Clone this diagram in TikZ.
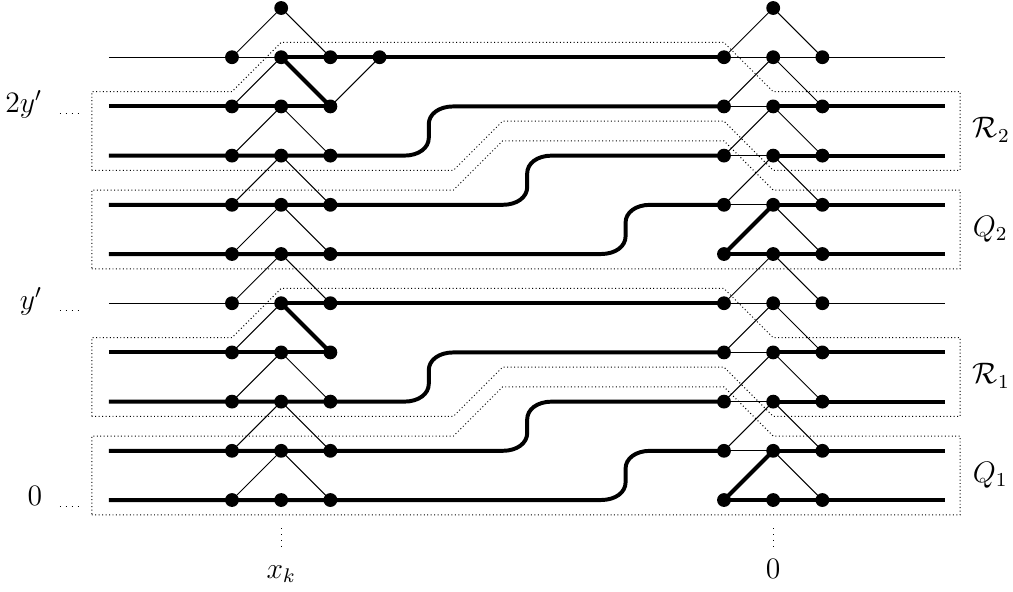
\documentclass[tikz,border=0pt]{standalone}
\usetikzlibrary{calc}
\newcommand{\sbend}[2]{(#1,#2) .. controls ({#1+0.3},#2) and ({#1+0.5},{#2+0.16}) .. ({#1+0.5},{#2+0.36}) -- ({#1+0.5},{#2+0.64}) .. controls ({#1+0.5},{#2+0.84}) and ({#1+0.7},{#2+1}) .. ({#1+1},{#2+1})}
\begin{document}
\begin{tikzpicture}[x=0.7cm,y=0.7cm,
  thinline/.style={line width=0.4pt},
  thickline/.style={line width=1.6pt},
  dot/.style={circle,fill=black,inner sep=0pt,minimum size=5.6pt},
  box/.style={densely dotted,line width=0.4pt},
  guide/.style={dotted,line width=0.4pt},
  lab/.style={inner sep=0pt,font=\fontsize{11.5pt}{14pt}\selectfont}]
\useasboundingbox (-4.715,-1.85) rectangle (15.874,10.163);

% coordinates
\foreach \y in {0,...,9} {
  \foreach \c in {0,1,2} { \coordinate (L\c-\y) at (\c,\y); }
  \foreach \c in {10,11,12} { \coordinate (R\c-\y) at (\c,\y); }
  \coordinate (S-\y) at (-2.5,\y);
  \coordinate (E-\y) at (14.5,\y);
}
\coordinate (L3-9) at (3,9);
\coordinate (LA) at (1,10);
\coordinate (RA) at (11,10);

% dotted boxes
\foreach \s in {0,5} {
  \draw[box] (-2.85,{\s-0.3}) -- (14.8,{\s-0.3}) -- (14.8,{\s+1.3}) -- (11,{\s+1.3}) -- (10,{\s+2.3}) -- (5.5,{\s+2.3}) -- (4.5,{\s+1.3}) -- (-2.85,{\s+1.3}) -- cycle;
  \draw[box] (-2.85,{\s+1.7}) -- (4.5,{\s+1.7}) -- (5.5,{\s+2.7}) -- (10,{\s+2.7}) -- (11,{\s+1.7}) -- (14.8,{\s+1.7}) -- (14.8,{\s+3.3}) -- (11,{\s+3.3}) -- (10,{\s+4.3}) -- (1,{\s+4.3}) -- (0,{\s+3.3}) -- (-2.85,{\s+3.3}) -- cycle;
}

% thin lattice
\draw[thinline] (LA) -- (L0-9) (LA) -- (L2-9);
\draw[thinline] (RA) -- (R10-9) (RA) -- (R12-9);
\draw[thinline] (L3-9) -- (L2-8);
\foreach \y/\z in {1/0,2/1,3/2,4/3,5/4,6/5,7/6,8/7,9/8} {
  \draw[thinline] (L1-\y) -- (L0-\z) (L1-\y) -- (L2-\z);
  \draw[thinline] (R11-\y) -- (R10-\z) (R11-\y) -- (R12-\z);
}

% row lines
\foreach \ya/\yb/\yc/\yd/\ye in {4/3/2/1/0, 9/8/7/6/5} {
  \draw[thinline] (S-\ya) -- (L1-\ya);
  \draw[thickline] (L1-\ya) -- (R10-\ya);
  \draw[thinline] (R10-\ya) -- (E-\ya);
  \draw[thickline] (L1-\ya) -- (L2-\yb);
  \draw[thickline] (S-\yb) -- (L2-\yb);
  \draw[thickline] (S-\yc) -- \sbend{3.5}{\yc} -- (R10-\yb);
  \draw[thickline] (S-\yd) -- \sbend{5.5}{\yd} -- (R10-\yc);
  \draw[thickline] (S-\ye) -- \sbend{7.5}{\ye} -- (R10-\yd);
  \foreach \r in {\yb,\yc,\yd} {
    \draw[thinline] (R10-\r) -- (R11-\r);
    \draw[thickline] (R11-\r) -- (E-\r);
  }
  \draw[thickline] (R10-\ye) -- (E-\ye);
  \draw[thickline] (R10-\ye) -- (R11-\yd);
}

% dots
\foreach \y in {0,...,9} {
  \foreach \c in {0,1,2} { \node[dot] (dL\c-\y) at (L\c-\y) {}; }
  \foreach \c in {10,11,12} { \node[dot] (dR\c-\y) at (R\c-\y) {}; }
}
\node[dot] (dL3-9) at (L3-9) {};
\node[dot] (dLA) at (LA) {};
\node[dot] (dRA) at (RA) {};

% left labels
\node[lab,anchor=base east] (l2y) at (-3.85,{8-0.118}) {$2y'$};
\node[lab,anchor=base east] (ly) at (-3.85,{4-0.118}) {$y'$};
\node[lab,anchor=base east] (l0) at (-3.85,{0-0.118}) {$0$};
\foreach \y in {8,4,0} {
  \draw[guide] (-3.5,{\y-0.14}) -- (-3.1,{\y-0.14});
}

% bottom labels
\coordinate (bx1) at (1,-0.57);
\coordinate (bx2) at (1,-0.98);
\coordinate (bz1) at (11,-0.57);
\coordinate (bz2) at (11,-0.98);
\draw[guide] (bx1) -- (bx2);
\draw[guide] (bz1) -- (bz2);
\node[lab,anchor=base] (lxk) at (1,-1.585) {$x_k$};
\node[lab,anchor=base] (lz) at (11,-1.585) {$0$};

% right labels
\node[lab,anchor=base west] (lR2) at (15.05,{7.5-0.14}) {$\mathcal{R}_2$};
\node[lab,anchor=base west] (lQ2) at (15.05,{5.5-0.14}) {$Q_2$};
\node[lab,anchor=base west] (lR1) at (15.05,{2.5-0.14}) {$\mathcal{R}_1$};
\node[lab,anchor=base west] (lQ1) at (15.05,{0.5-0.14}) {$Q_1$};
\end{tikzpicture}
\end{document}
